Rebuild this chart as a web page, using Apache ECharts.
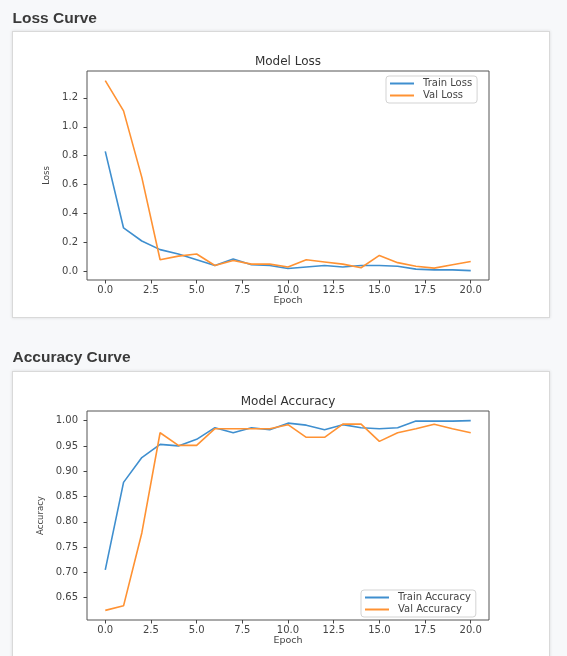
<!DOCTYPE html>
<html>
<head>
<meta charset="utf-8">
<script src="https://cdn.jsdelivr.net/npm/echarts@6/dist/echarts.min.js"></script>
<style>
  html, body { margin:0; padding:0; width:567px; height:656px; background:#f7f8fa; overflow:hidden; }
  .card { position:absolute; background:#fff; border:1.5px solid #d9d9d9; box-shadow:0 0 3px rgba(0,0,0,0.12); box-sizing:border-box; }
  #chart { position:absolute; left:0; top:0; width:567px; height:656px; }
</style>
</head>
<body>
<div class="card" style="left:12px;top:31px;width:538px;height:287px;"></div>
<div class="card" style="left:12px;top:371px;width:538px;height:300px;"></div>
<div id="chart"></div>
<script>
const epochs = [0,1,2,3,4,5,6,7,8,9,10,11,12,13,14,15,16,17,18,19,20];
const trainLoss = [0.83,0.30,0.21,0.15,0.12,0.08,0.04,0.085,0.045,0.04,0.02,0.03,0.04,0.03,0.04,0.04,0.035,0.015,0.01,0.01,0.005];
const valLoss = [1.32,1.11,0.65,0.08,0.105,0.12,0.04,0.075,0.05,0.05,0.03,0.08,0.065,0.05,0.025,0.11,0.06,0.035,0.022,0.045,0.068];
const trainAcc = [0.705,0.878,0.927,0.953,0.950,0.963,0.986,0.976,0.986,0.982,0.995,0.991,0.982,0.992,0.986,0.984,0.986,0.999,0.999,0.999,1.0];
const valAcc = [0.625,0.634,0.778,0.976,0.951,0.951,0.984,0.984,0.984,0.984,0.992,0.967,0.967,0.993,0.993,0.959,0.976,0.984,0.993,0.984,0.976];
const xTicks = [0,2.5,5,7.5,10,12.5,15,17.5,20];
const lossTicks = [0,0.2,0.4,0.6,0.8,1.0,1.2];
const accTicks = [0.65,0.70,0.75,0.80,0.85,0.90,0.95,1.00];

const BLUE = '#3f8fcf', ORANGE = '#ff9233';
const FONT = 'DejaVu Sans';
const pairs = (ys) => epochs.map((e, i) => [e, ys[i]]);

function xAxisCfg(idx) {
  return {
    type: 'value', gridIndex: idx, min: -1, max: 21, position: 'bottom',
    axisLine: { show: false, onZero: false },
    axisTick: { show: true, customValues: xTicks, length: 3.5, lineStyle: { color: '#444', width: 1 } },
    axisLabel: { customValues: xTicks, formatter: v => v.toFixed(1), fontSize: 10, color: '#444', fontFamily: FONT, margin: 5 },
    splitLine: { show: false },
    name: 'Epoch', nameLocation: 'middle', nameGap: 16,
    nameTextStyle: { fontSize: 9.5, color: '#444', fontFamily: FONT }
  };
}
function yAxisCfg(idx, min, max, ticks, dec, name, gap) {
  return {
    type: 'value', gridIndex: idx, min: min, max: max, position: 'left',
    axisLine: { show: false, onZero: false },
    axisTick: { show: true, customValues: ticks, length: 3.5, lineStyle: { color: '#444', width: 1 } },
    axisLabel: { customValues: ticks, formatter: v => v.toFixed(dec), fontSize: 10, color: '#444', fontFamily: FONT, margin: 9 },
    splitLine: { show: false },
    name: name, nameLocation: 'middle', nameGap: gap, nameRotate: 90,
    nameTextStyle: { fontSize: 8.5, color: '#444', fontFamily: FONT }
  };
}
function legendCfg(names, left, top) {
  return {
    data: names, left: left, top: top, orient: 'vertical',
    backgroundColor: '#fff', borderColor: '#d3d3d3', borderWidth: 1, borderRadius: 3,
    padding: [2, 5, 2, 4], itemGap: 1, itemWidth: 24, itemHeight: 2, icon: 'rect',
    textStyle: { fontSize: 10, color: '#444', fontFamily: FONT, lineHeight: 11, padding: [0, 0, 0, 4] }
  };
}
function txt(text, x, y, size, weight, color, family, align) {
  return { type: 'text', x: x, y: y, style: { text: text, fill: color, font: weight + ' ' + size + 'px "' + family + '"', textAlign: align, textVerticalAlign: 'middle' } };
}

const chart = echarts.init(document.getElementById('chart'), null, { renderer: 'canvas' });
chart.setOption({
  backgroundColor: 'transparent',
  animation: false,
  graphic: [
    txt('Loss Curve', 12.5, 19, 15.5, 'bold', '#3a3a3a', 'Liberation Sans', 'left'),
    txt('Accuracy Curve', 12.5, 358, 15.5, 'bold', '#3a3a3a', 'Liberation Sans', 'left'),
    txt('Model Loss', 288, 62, 12, 'normal', '#333', FONT, 'center'),
    txt('Model Accuracy', 288, 402, 12, 'normal', '#333', FONT, 'center')
  ],
  grid: [
    { left: 87, top: 71, width: 402, height: 209, show: true, borderColor: '#555', borderWidth: 1, backgroundColor: '#fff', containLabel: false },
    { left: 87, top: 411, width: 402, height: 209, show: true, borderColor: '#555', borderWidth: 1, backgroundColor: '#fff', containLabel: false }
  ],
  xAxis: [xAxisCfg(0), xAxisCfg(1)],
  yAxis: [
    yAxisCfg(0, -0.06, 1.386, lossTicks, 1, 'Loss', 34),
    yAxisCfg(1, 0.606, 1.019, accTicks, 2, 'Accuracy', 42)
  ],
  legend: [
    legendCfg(['Train Loss', 'Val Loss'], 386, 76),
    legendCfg(['Train Accuracy', 'Val Accuracy'], 361, 590)
  ],
  series: [
    { name: 'Train Loss', type: 'line', xAxisIndex: 0, yAxisIndex: 0, data: pairs(trainLoss), showSymbol: false, symbol: 'none', color: BLUE, lineStyle: { width: 1.6, color: BLUE } },
    { name: 'Val Loss', type: 'line', xAxisIndex: 0, yAxisIndex: 0, data: pairs(valLoss), showSymbol: false, symbol: 'none', color: ORANGE, lineStyle: { width: 1.6, color: ORANGE } },
    { name: 'Train Accuracy', type: 'line', xAxisIndex: 1, yAxisIndex: 1, data: pairs(trainAcc), showSymbol: false, symbol: 'none', color: BLUE, lineStyle: { width: 1.6, color: BLUE } },
    { name: 'Val Accuracy', type: 'line', xAxisIndex: 1, yAxisIndex: 1, data: pairs(valAcc), showSymbol: false, symbol: 'none', color: ORANGE, lineStyle: { width: 1.6, color: ORANGE } }
  ]
});
</script>
</body>
</html>
